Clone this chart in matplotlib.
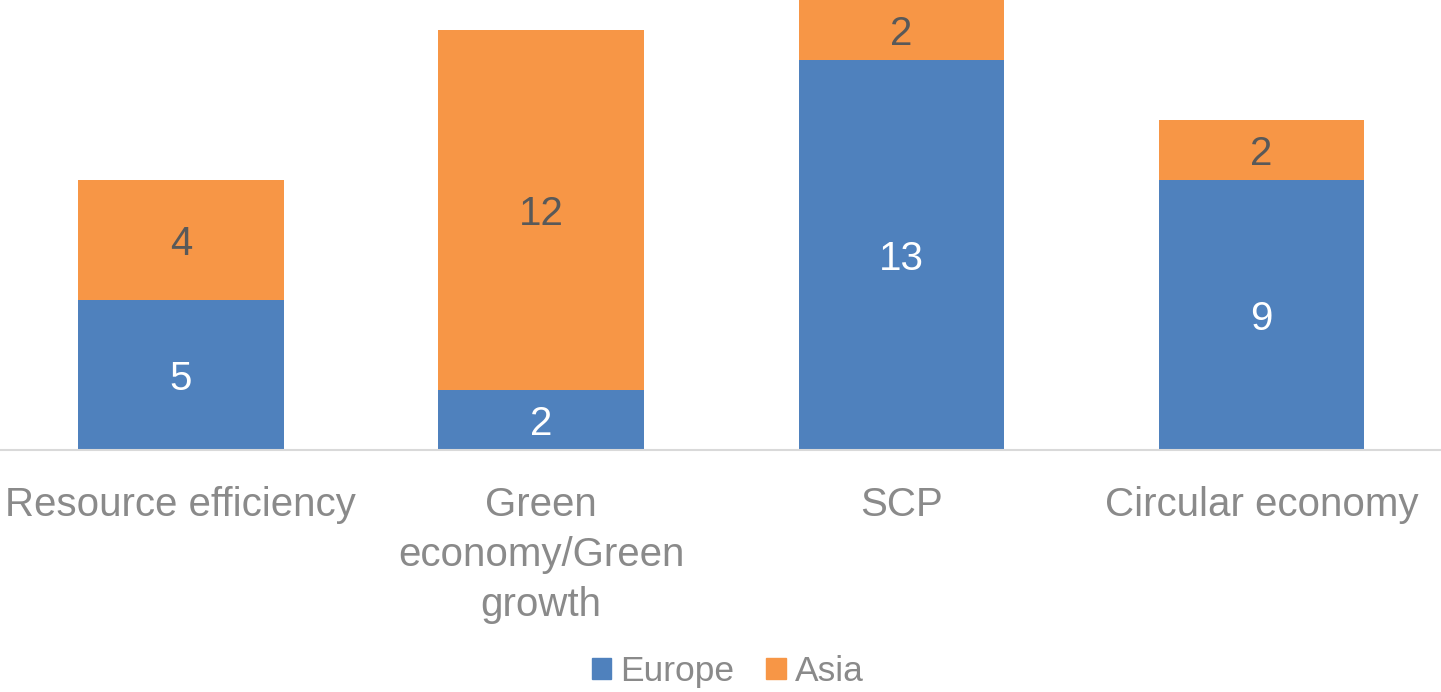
import numpy as np
import matplotlib.pyplot as plt
from matplotlib.patches import Patch

categories = ["Resource efficiency", "Green\neconomy/Green\ngrowth", "SCP", "Circular economy"]
europe = [5, 2, 13, 9]
asia = [4, 12, 2, 2]

blue = "#4F81BD"
orange = "#F79646"
grey_txt = "#8a8a8a"

plt.rcParams['font.family'] = ['Liberation Sans', 'DejaVu Sans']

fig = plt.figure(figsize=(14.41, 6.92), dpi=100)
ax = fig.add_axes([0.0005, 242 / 692, 1, 450 / 692])

x = np.arange(len(categories))
w = 0.57
ax.bar(x, europe, w, color=blue)
ax.bar(x, asia, w, bottom=europe, color=orange)

for i in range(len(x)):
    ax.text(x[i], europe[i] / 2, str(europe[i]), ha='center', va='center_baseline',
            color='white', fontsize=29)
    ax.text(x[i], europe[i] + asia[i] / 2, str(asia[i]), ha='center', va='center_baseline',
            color='#595959', fontsize=29)

ax.set_xlim(-0.5, 3.5)
ax.set_ylim(0, 15)
ax.set_yticks([])
ax.set_xticks(x)
ax.set_xticklabels(categories, fontsize=29, color=grey_txt, linespacing=1.39)
ax.tick_params(axis='x', length=0, pad=26)
for s in ['top', 'left', 'right']:
    ax.spines[s].set_visible(False)
ax.spines['bottom'].set_color('#d9d9d9')
ax.spines['bottom'].set_linewidth(1.5)

handles = [Patch(color=blue, label='Europe'), Patch(color=orange, label='Asia')]
fig.legend(handles=handles, loc='lower center', bbox_to_anchor=(0.505, -0.04), ncol=2,
           frameon=False, fontsize=25.5, labelcolor=grey_txt, handlelength=0.55,
           handleheight=0.55, handletextpad=0.25, columnspacing=0.9)

fig.savefig("out.png", dpi=100)
